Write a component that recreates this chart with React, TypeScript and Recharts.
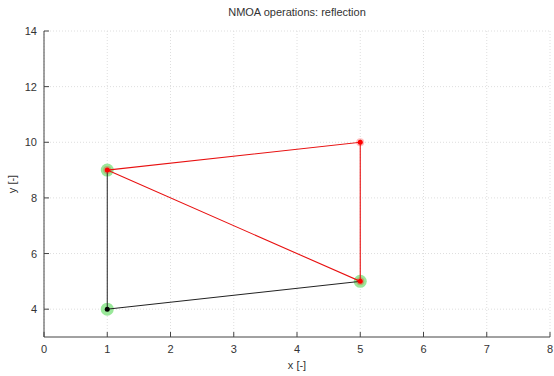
import React from "react";
import { ComposedChart, Scatter, XAxis, YAxis, CartesianGrid } from "recharts";

const xTicks = [0, 1, 2, 3, 4, 5, 6, 7, 8];
const yTicks = [4, 6, 8, 10, 12, 14];

// simplex before reflection (black, shared edge drawn by the red one) and after (red)
const simplexOld = [
  { x: 1, y: 9 },
  { x: 1, y: 4 },
  { x: 5, y: 5 },
];
const simplexNew = [
  { x: 1, y: 9 },
  { x: 5, y: 10 },
  { x: 5, y: 5 },
  { x: 1, y: 9 },
];
const oldVertices = [
  { x: 1, y: 9 },
  { x: 1, y: 4 },
  { x: 5, y: 5 },
];
const worstPoint = [{ x: 1, y: 4 }];
const newVertices = [
  { x: 1, y: 9 },
  { x: 5, y: 10 },
  { x: 5, y: 5 },
];

const font = "'Liberation Sans', Arial, sans-serif";
const axisColor = "#444";
const textColor = "#333";

const Empty = () => <g />;

const BottomTick = ({ x, y, payload }: any) => (
  <g>
    <line x1={x} y1={y} x2={x} y2={y - 5} stroke={axisColor} />
    <text x={x} y={y + 16} textAnchor="middle" fontSize={11} fill={textColor} fontFamily={font}>
      {payload.value}
    </text>
  </g>
);
const TopTick = ({ x, y }: any) => <line x1={x} y1={y} x2={x} y2={y + 5} stroke={axisColor} />;
const LeftTick = ({ x, y, payload }: any) => (
  <g>
    <line x1={x} y1={y} x2={x + 5} y2={y} stroke={axisColor} />
    <text x={x - 7} y={y + 4} textAnchor="end" fontSize={11} fill={textColor} fontFamily={font}>
      {payload.value}
    </text>
  </g>
);
const RightTick = ({ x, y }: any) => <line x1={x} y1={y} x2={x - 5} y2={y} stroke={axisColor} />;

export default function App() {
  return (
    <div style={{ position: "absolute", left: 0, top: 0, width: 554, height: 376, background: "#fff", fontFamily: font }}>
      <div style={{ position: "absolute", left: 44, width: 506, top: 6, textAlign: "center", fontSize: 11, color: textColor }}>
        NMOA operations: reflection
      </div>
      <div style={{ position: "absolute", left: 44, width: 506, top: 359, textAlign: "center", fontSize: 11, color: textColor }}>
        x [-]
      </div>
      <div
        style={{
          position: "absolute",
          left: 12,
          top: 184,
          fontSize: 11,
          color: textColor,
          transform: "translate(-50%, -50%) rotate(-90deg)",
          whiteSpace: "nowrap",
        }}
      >
        y [-]
      </div>
      <ComposedChart width={554} height={376} margin={{ top: 31, right: 4, bottom: 0, left: 0 }}>
        <CartesianGrid stroke="#dedede" strokeDasharray="1 2" horizontalValues={yTicks} verticalValues={xTicks} />
        <XAxis
          type="number"
          dataKey="x"
          domain={[0, 8]}
          ticks={xTicks}
          height={39}
          tickSize={0}
          tickMargin={0}
          stroke={axisColor}
          tick={<BottomTick />}
          interval={0}
        />
        <XAxis
          xAxisId="top"
          orientation="top"
          type="number"
          dataKey="x"
          domain={[0, 8]}
          ticks={xTicks}
          height={0}
          tickSize={0}
          tickMargin={0}
          stroke={axisColor}
          tick={<TopTick />}
          interval={0}
        />
        <YAxis
          type="number"
          dataKey="y"
          domain={[3, 14]}
          ticks={yTicks}
          width={44}
          tickSize={0}
          tickMargin={0}
          stroke={axisColor}
          tick={<LeftTick />}
          interval={0}
        />
        <YAxis
          yAxisId="right"
          orientation="right"
          type="number"
          dataKey="y"
          domain={[3, 14]}
          ticks={yTicks}
          width={0}
          tickSize={0}
          tickMargin={0}
          stroke={axisColor}
          tick={<RightTick />}
          interval={0}
        />
        <Scatter
          data={oldVertices}
          isAnimationActive={false}
          shape={(p: any) => <circle cx={p.cx} cy={p.cy} r={6.5} fill="#9ae89a" />}
        />
        <Scatter
          data={simplexOld}
          isAnimationActive={false}
          line={{ stroke: "#222", strokeWidth: 1 }}
          shape={Empty}
        />
        <Scatter
          data={simplexNew}
          isAnimationActive={false}
          line={{ stroke: "#e81010", strokeWidth: 1.1 }}
          shape={Empty}
        />
        <Scatter
          data={worstPoint}
          isAnimationActive={false}
          shape={(p: any) => <circle cx={p.cx} cy={p.cy} r={2.5} fill="#000" />}
        />
        <Scatter
          data={newVertices}
          isAnimationActive={false}
          shape={(p: any) => (
            <g>
              <circle cx={p.cx} cy={p.cy} r={4} fill="#ff0000" fillOpacity={0.25} />
              <circle cx={p.cx} cy={p.cy} r={2.5} fill="#ff0000" />
            </g>
          )}
        />
      </ComposedChart>
    </div>
  );
}
